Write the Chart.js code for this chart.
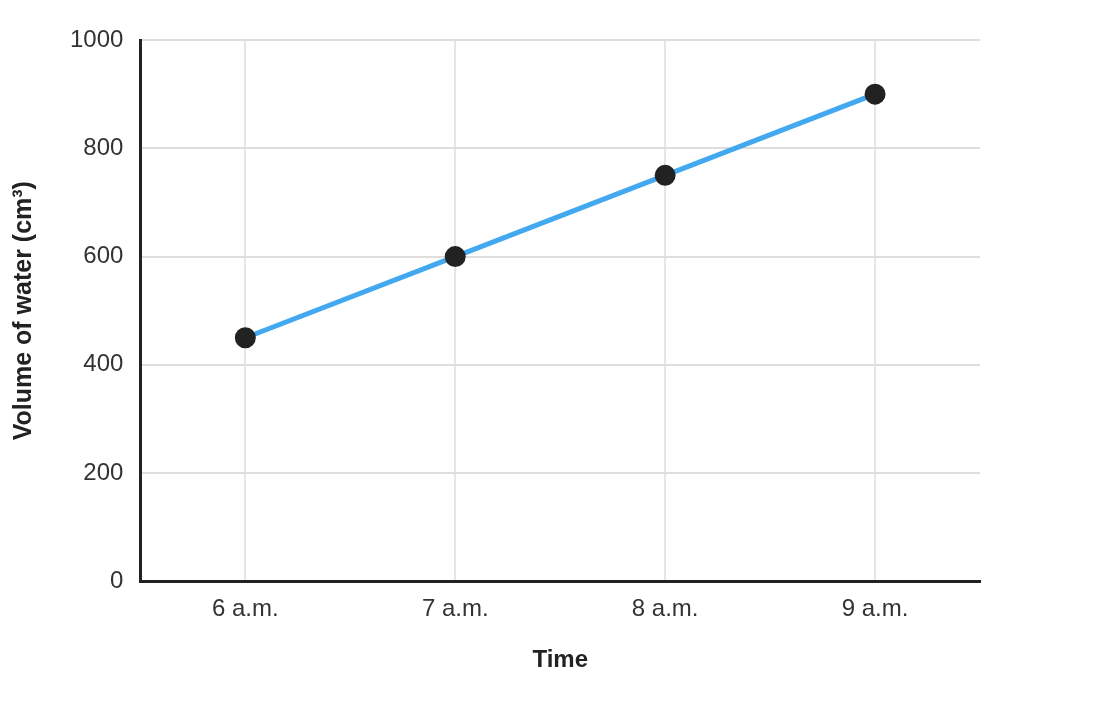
<!DOCTYPE html>
<html>
<head>
<meta charset="utf-8">
<script src="https://cdn.jsdelivr.net/npm/chart.js@4"></script>
<style>
  html, body { margin: 0; padding: 0; background: #fff; }
  #wrap { width: 1120px; height: 720px; }
</style>
</head>
<body>
<div id="wrap"><canvas id="myChart"></canvas></div>
<script>
// data
var times = ["6 a.m.", "7 a.m.", "8 a.m.", "9 a.m."];
var volumes = [450, 600, 750, 900];
var yTicks = [0, 200, 400, 600, 800, 1000];

var ctx = document.getElementById("myChart");

Chart.defaults.font.family = "'Liberation Sans', Arial, sans-serif";
Chart.defaults.color = "#333";

var waterData = {
  labels: times,
  datasets: [
    {
      data: volumes,
      borderColor: "#42a8f0",
      borderWidth: 5,
      pointBackgroundColor: "#222",
      pointBorderColor: "#222",
      pointRadius: 8,
      pointHoverRadius: 8,
      tension: 0,
      fill: false
    }
  ]
};

var chartOptions = {
  responsive: true,
  maintainAspectRatio: false,
  animation: false,
  layout: {
    padding: { top: 40, right: 140, bottom: 41, left: 5 }
  },
  plugins: {
    legend: { display: false },
    tooltip: { enabled: false }
  },
  scales: {
    x: {
      offset: true,
      grid: { color: "#e6e6e6", lineWidth: 2, drawTicks: false, offset: false },
      border: { color: "#222", width: 3 },
      ticks: { font: { size: 24 }, padding: 14, color: "#333" },
      title: { display: true, text: "Time", font: { size: 24, weight: "bold" }, color: "#222", padding: { top: 8 } }
    },
    y: {
      min: 0,
      max: 1000,
      afterBuildTicks: function (axis) {
        axis.ticks = yTicks.map(function (v) { return { value: v }; });
      },
      grid: { color: "#dedede", lineWidth: 2, drawTicks: false },
      border: { color: "#222", width: 3 },
      ticks: {
        font: { size: 24 },
        padding: 17,
        color: "#333",
        callback: function (v) { return String(v); }
      },
      title: { display: true, text: "Volume of water (cm³)", font: { size: 25, weight: "bold" }, color: "#222", padding: { bottom: 14 } }
    }
  }
};

var lineChart = new Chart(ctx, {
  type: "line",
  data: waterData,
  options: chartOptions
});
</script>
</body>
</html>
